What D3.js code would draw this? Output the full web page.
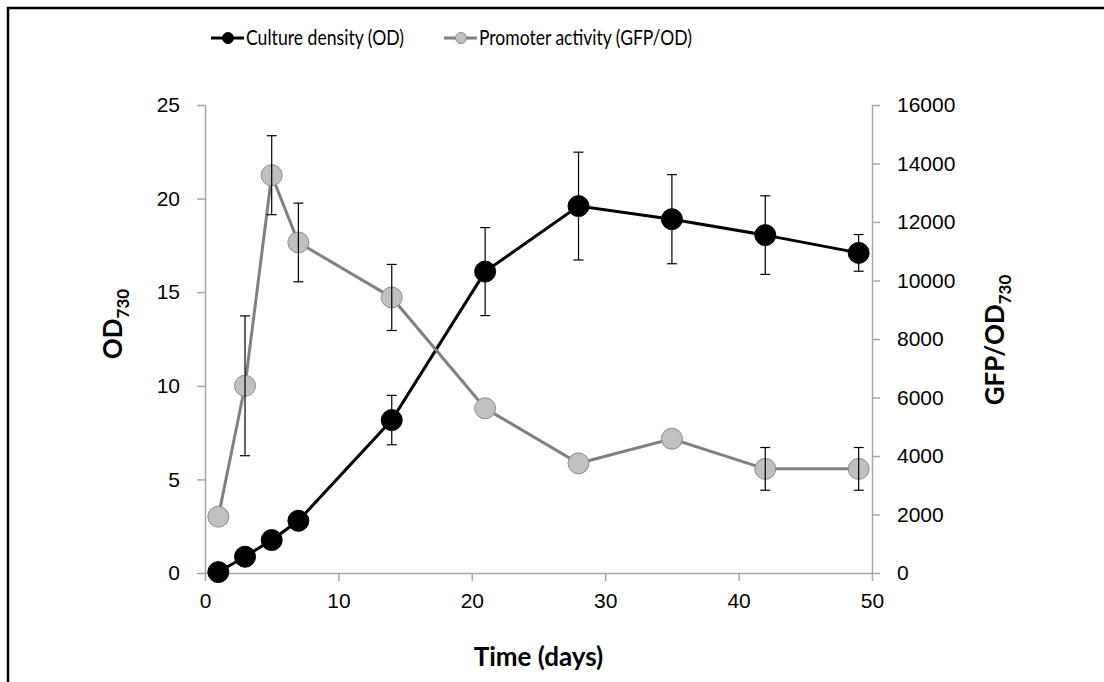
<!DOCTYPE html>
<html>
<head>
<meta charset="utf-8">
<script src="https://cdn.jsdelivr.net/npm/d3@7"></script>
<style>
  body { margin: 0; background: #fff; }
  svg { display: block; font-family: Lato, "Open Sans", sans-serif; }
  .axis path, .axis line { stroke: #a6a6a6; stroke-width: 1.5; }
  .axis text { fill: #000; font-size: 21px; }
</style>
</head>
<body>
<svg id="chart" width="1104" height="682"></svg>
<script>
const days = [1, 3, 5, 7, 14, 21, 28, 35, 42, 49]
const od = [0.05, 0.87, 1.76, 2.79, 8.17, 16.1, 19.6, 18.9, 18.05, 17.1]
const odErr = [0, 0, 0, 0, 1.32, 2.35, 2.88, 2.38, 2.1, 0.98]
const gfp = [1925, 6400, 13600, 11300, 9420, 5630, 3750, 4590, 3560, 3560]
const gfpErr = [0, 2390, 1350, 1345, 1130, 0, 0, 0, 730, 730]
const xTicks = [0, 10, 20, 30, 40, 50]
const odTicks = [0, 5, 10, 15, 20, 25]
const gfpTicks = [0, 2000, 4000, 6000, 8000, 10000, 12000, 14000, 16000]

const W = 1104, H = 682
const plotL = 205, plotR = 872, plotT = 105, plotB = 573

const svg = d3.select('#chart')

// outer frame (right and bottom edges fall outside the picture)
svg.append('path')
  .attr('d', `M8,${H} V8 H${W}`)
  .attr('fill', 'none').attr('stroke', '#000').attr('stroke-width', 2.5)

const x = d3.scaleLinear().domain([0, 50]).range([plotL, plotR])
const yL = d3.scaleLinear().domain([0, 25]).range([plotB, plotT])
const yR = d3.scaleLinear().domain([0, 16000]).range([plotB, plotT])

const gx = svg.append('g').attr('class', 'axis')
  .attr('transform', `translate(0,${plotB})`)
  .call(d3.axisBottom(x).tickValues(xTicks).tickSize(8).tickSizeOuter(0).tickPadding(12))
const gyl = svg.append('g').attr('class', 'axis')
  .attr('transform', `translate(${plotL},0)`)
  .call(d3.axisLeft(yL).tickValues(odTicks).tickSize(8).tickSizeOuter(0).tickPadding(17))
const gyr = svg.append('g').attr('class', 'axis')
  .attr('transform', `translate(${plotR},0)`)
  .call(d3.axisRight(yR).tickValues(gfpTicks).tickFormat(d3.format('d')).tickSize(8).tickSizeOuter(0).tickPadding(17))
;[gx, gyl, gyr].forEach(g => g.select('.domain').attr('stroke', '#a6a6a6'))

// axis titles
svg.append('text').text('Time (days)')
  .attr('x', (plotL + plotR) / 2).attr('y', 666)
  .attr('text-anchor', 'middle').attr('font-weight', 'bold').attr('font-size', 26)

const odTitle = svg.append('text')
  .attr('transform', `translate(122,324) rotate(-90)`)
  .attr('text-anchor', 'middle').attr('font-weight', 'bold').attr('font-size', 26)
odTitle.append('tspan').text('OD')
odTitle.append('tspan').text('730').attr('font-size', 17).attr('dy', 7)

const gfpTitle = svg.append('text')
  .attr('transform', `translate(1004,340) rotate(-90)`)
  .attr('text-anchor', 'middle').attr('font-weight', 'bold').attr('font-size', 26)
gfpTitle.append('tspan').text('GFP/OD')
gfpTitle.append('tspan').text('730').attr('font-size', 17).attr('dy', 7)

const series = [
  { name: 'Culture density (OD)', values: od, err: odErr, y: yL, line: '#000', fill: '#000', stroke: '#000' },
  { name: 'Promoter activity (GFP/OD)', values: gfp, err: gfpErr, y: yR, line: '#808080', fill: '#c0c0c0', stroke: '#8c8c8c' },
]

series.forEach(s => {
  const g = svg.append('g')
  const line = d3.line().x((d, i) => x(days[i])).y(d => s.y(d))
  g.append('path').datum(s.values).attr('d', line)
    .attr('fill', 'none').attr('stroke', s.line).attr('stroke-width', 3)
  g.selectAll('circle').data(s.values).join('circle')
    .attr('cx', (d, i) => x(days[i])).attr('cy', d => s.y(d)).attr('r', 10.5)
    .attr('fill', s.fill).attr('stroke', s.stroke).attr('stroke-width', 1)
  const eb = g.selectAll('g.err').data(s.values.map((v, i) => ({ v, e: s.err[i], d: days[i] })).filter(d => d.e > 0))
    .join('g').attr('class', 'err').attr('stroke', '#000').attr('stroke-width', 1.2)
  eb.append('line')
    .attr('x1', d => x(d.d)).attr('x2', d => x(d.d))
    .attr('y1', d => s.y(d.v + d.e)).attr('y2', d => s.y(d.v - d.e))
  eb.append('line')
    .attr('x1', d => x(d.d) - 5).attr('x2', d => x(d.d) + 5)
    .attr('y1', d => s.y(d.v + d.e)).attr('y2', d => s.y(d.v + d.e))
  eb.append('line')
    .attr('x1', d => x(d.d) - 5).attr('x2', d => x(d.d) + 5)
    .attr('y1', d => s.y(d.v - d.e)).attr('y2', d => s.y(d.v - d.e))
})

// legend
const legendX = [211, 444]
series.forEach((s, i) => {
  const g = svg.append('g').attr('transform', `translate(${legendX[i]},38)`)
  g.append('line').attr('x1', 0).attr('x2', 33).attr('stroke', s.line).attr('stroke-width', 3)
  g.append('circle').attr('cx', 17).attr('r', 5.5).attr('fill', s.fill).attr('stroke', s.stroke)
  g.append('text').text(s.name).attr('x', 35).attr('dy', '0.35em').attr('font-size', 20.5)
    .attr('textLength', i === 0 ? 158 : 213).attr('lengthAdjust', 'spacingAndGlyphs')
})
</script>
</body>
</html>
